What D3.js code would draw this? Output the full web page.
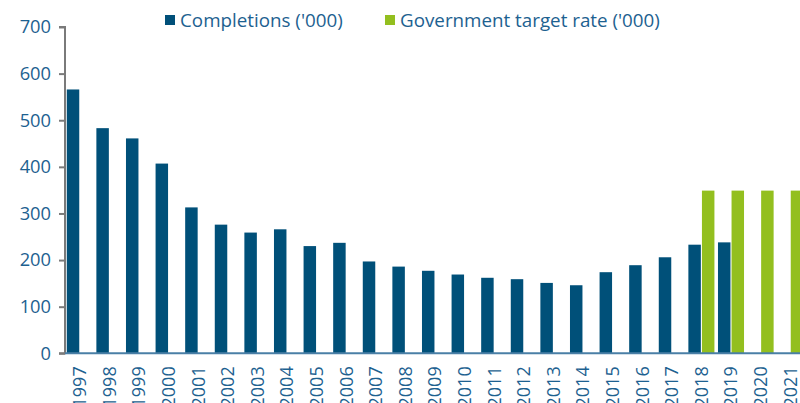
<!DOCTYPE html>
<html>
<head>
<meta charset="utf-8">
<script src="https://cdn.jsdelivr.net/npm/d3@7"></script>
<style>
  body { margin: 0; background: #fff; }
  text { font-family: "Open Sans", sans-serif; }
</style>
</head>
<body>
<script>
const years = ["1997", "1998", "1999", "2000", "2001", "2002", "2003", "2004", "2005", "2006",
    "2007", "2008", "2009", "2010", "2011", "2012", "2013", "2014", "2015", "2016",
    "2017", "2018", "2019", "2020", "2021"];

const completions = [566, 483, 461, 407, 313, 276, 259, 266, 230, 237,
    197, 186, 177, 169, 162, 159, 151, 146, 174, 189,
    206, 233, 238, null, null];

const targetRate = [null, null, null, null, null, null, null, null, null, null,
    null, null, null, null, null, null, null, null, null, null,
    null, 349, 349, 349, 349];

const seriesNames = ["Completions ('000)", "Government target rate ('000)"];
const yTicks = [0, 100, 200, 300, 400, 500, 600, 700];

const width = 800;
const height = 403;
const marginLeft = 65;
const marginTop = 27;
const plotBottom = 353.3;

const blue = "#005079";
const green = "#93bf1f";
const textColor = "#1d6190";

const x = d3.scaleBand()
    .domain(years)
    .range([marginLeft, marginLeft + 740])
    .paddingInner(0.12)
    .paddingOuter(0.06);

const xs = d3.scaleBand()
    .domain(seriesNames)
    .range([0, x.bandwidth()])
    .paddingInner(0.08);

const y = d3.scaleLinear()
    .domain([0, 700])
    .range([plotBottom, marginTop]);

const color = d3.scaleOrdinal()
    .domain(seriesNames)
    .range([blue, green]);

const svg = d3.create("svg")
    .attr("width", width)
    .attr("height", height)
    .attr("viewBox", `0 0 ${width} ${height}`);

// Balken
const rows = years.map((yr, i) => [
    { year: yr, key: seriesNames[0], value: completions[i] },
    { year: yr, key: seriesNames[1], value: targetRate[i] }
]).flat().filter(d => d.value != null);

svg.append("g")
    .selectAll("rect")
    .data(rows)
    .enter()
    .append("rect")
    .attr("x", d => x(d.year) + xs(d.key))
    .attr("y", d => y(d.value))
    .attr("width", xs.bandwidth())
    .attr("height", d => y(0) - y(d.value))
    .attr("fill", d => color(d.key));

// y-Achse
const yAxis = svg.append("g")
    .attr("transform", `translate(${marginLeft},0)`)
    .call(d3.axisLeft(y).tickValues(yTicks).tickSize(6).tickPadding(8));

yAxis.select(".domain")
    .attr("stroke", "#7a7a7a")
    .attr("stroke-width", 2)
    .attr("d", `M-6,${y(700)}H0V${plotBottom}H-6`);

yAxis.selectAll(".tick line")
    .attr("stroke", "#7a7a7a")
    .attr("stroke-width", 2);

yAxis.selectAll(".tick text")
    .attr("fill", textColor)
    .style("font-size", "18.3px");

// x-Achse
const xAxis = svg.append("g")
    .attr("transform", `translate(0,${plotBottom})`)
    .call(d3.axisBottom(x).tickSize(0).tickPadding(0));

xAxis.select(".domain")
    .attr("stroke", "#4a7fa6")
    .attr("stroke-width", 2)
    .attr("d", `M${marginLeft},0H${width}`);

xAxis.selectAll(".tick text")
    .attr("fill", textColor)
    .style("font-size", "18px")
    .attr("transform", "rotate(-90)")
    .attr("text-anchor", "end")
    .attr("x", -13)
    .attr("y", 0)
    .attr("dy", "0.35em");

// Legende
const legendPos = [165, 385];

const legend = svg.append("g");

legend.selectAll("g")
    .data(seriesNames)
    .enter()
    .append("g")
    .attr("transform", (d, i) => `translate(${legendPos[i]},15)`)
    .each(function(d) {
        d3.select(this)
            .append("rect")
            .attr("width", 10)
            .attr("height", 10)
            .attr("fill", color(d));

        d3.select(this)
            .append("text")
            .attr("x", 15)
            .attr("y", 11.8)
            .attr("fill", textColor)
            .style("font-size", "18.8px")
            .text(d);
    });

document.body.appendChild(svg.node());
</script>
</body>
</html>
